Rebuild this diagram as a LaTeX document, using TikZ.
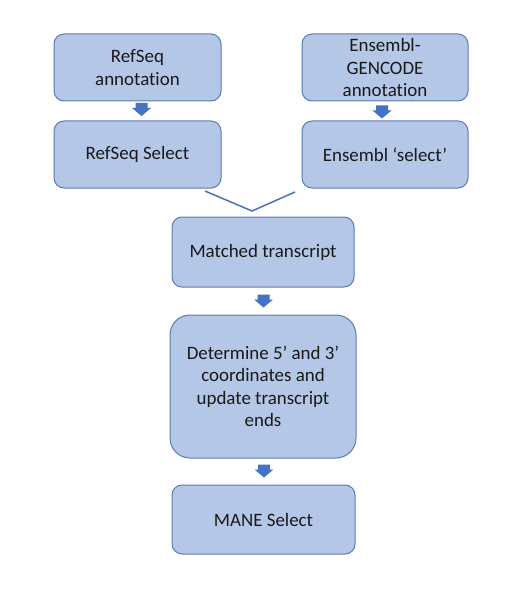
\documentclass[tikz,border=0pt]{standalone}
\usepackage{fontspec}
\setmainfont[Ligatures=NoCommon]{Carlito}
\usetikzlibrary{calc}
\definecolor{boxfill}{HTML}{B4C7E7}
\definecolor{boxline}{HTML}{5A7DAF}
\definecolor{arrfill}{HTML}{4472C4}
\definecolor{vline}{HTML}{4A72B8}
\begin{document}
\begin{tikzpicture}[x=1bp,y=-1bp,
  box/.style={draw=boxline, fill=boxfill, line width=1bp, rounded corners=10bp,
    minimum width=167bp, minimum height=67bp, align=center, inner sep=0pt,
    font=\fontsize{19}{22.5}\selectfont, text=black!90},
  blockarrow/.pic={\fill[arrfill] (-6,-6.5) -- (6,-6.5) -- (6,-1.5) -- (9.5,-1.5) -- (0,6.5) -- (-9.5,-1.5) -- (-6,-1.5) -- cycle;}]
\useasboundingbox[fill=white] (0,0) rectangle (517,592);
\node[box] (rs) at (137.5,67.5) {RefSeq\\annotation};
\node[box] (rss) at (137.5,154.5) {RefSeq Select};
\node[box, minimum width=166bp] (eg) at (385,67.5) {Ensembl-\\GENCODE\\annotation};
\node[box, minimum width=166bp] (es) at (385,154.5) {Ensembl ‘select’};
\node[box, minimum width=182bp, minimum height=70bp] (mt) at (263,252) {Matched transcript};
\node[box, minimum width=186bp, minimum height=143bp, rounded corners=20bp] (det) at (263,386.5)
  {Determine 5’ and 3’\\coordinates and\\update transcript\\ends};
\node[box, minimum width=183bp, minimum height=69bp] (mane) at (263.5,519.5) {MANE Select};
\coordinate (vl) at (205,191);
\coordinate (vb) at (252,211);
\coordinate (vr) at (295,192);
\draw[vline, line width=1.5bp] (vl) -- (vb) -- (vr);
\pic at (141.5,109.5) {blockarrow};
\pic at (382,112) {blockarrow};
\pic at (263.5,301) {blockarrow};
\pic at (264,471) {blockarrow};
\end{tikzpicture}
\end{document}
